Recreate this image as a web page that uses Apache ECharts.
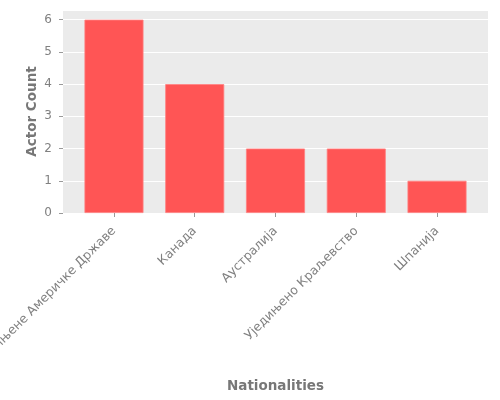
<!DOCTYPE html>
<html>
<head>
<meta charset="utf-8">
<script src="https://cdn.jsdelivr.net/npm/echarts@6/dist/echarts.min.js"></script>
<style>
html, body { margin: 0; padding: 0; background: #fff; }
#main { width: 500px; height: 400px; }
</style>
</head>
<body>
<div id="main"></div>
<script>
var categories = ['Сједињене Америчке Државе', 'Канада', 'Аустралија', 'Уједињено Краљевство', 'Шпанија'];
var counts = [6, 4, 2, 2, 1];

var chart = echarts.init(document.getElementById('main'));

// grid 0: grey panel + y axis, grid 1: the bars (narrower, like matplotlib margins)
chart.setOption({
	animation: false,
	textStyle: { fontFamily: 'DejaVu Sans' },
	grid: [{
		left: 63,
		right: 12,
		top: 10,
		bottom: 187,
		outerBoundsMode: 'none',
		containLabel: false,
		show: true,
		backgroundColor: '#EBEBEB',
		borderWidth: 0
	}, {
		left: 73.6,
		right: 22.6,
		top: 10,
		bottom: 187,
		outerBoundsMode: 'none',
		containLabel: false
	}],
	xAxis: [{
		gridIndex: 0,
		type: 'value',
		show: false
	}, {
		gridIndex: 1,
		type: 'category',
		data: categories,
		name: 'Nationalities',
		nameLocation: 'middle',
		nameGap: 166,
		nameMoveOverlap: false,
		nameTextStyle: { color: '#777777', fontSize: 13.5, fontWeight: 'bold' },
		axisLine: { show: false },
		splitLine: { show: false },
		axisTick: {
			show: true,
			alignWithLabel: true,
			length: 4,
			lineStyle: { color: '#999999' }
		},
		axisLabel: {
			rotate: 45,
			margin: 16,
			interval: 0,
			color: '#808080',
			fontSize: 12.5
		}
	}],
	yAxis: [{
		gridIndex: 0,
		type: 'value',
		min: 0,
		max: 6.3,
		interval: 1,
		name: 'Actor Count',
		nameLocation: 'middle',
		nameGap: 24,
		nameMoveOverlap: false,
		nameTextStyle: { color: '#777777', fontSize: 13.5, fontWeight: 'bold' },
		axisLine: { show: false },
		axisTick: { show: true, length: 4, lineStyle: { color: '#999999' } },
		axisLabel: {
			color: '#808080',
			fontSize: 12,
			margin: 11,
			showMaxLabel: false
		},
		splitLine: { show: true, lineStyle: { color: '#FFFFFF', width: 1 } }
	}, {
		gridIndex: 1,
		type: 'value',
		min: 0,
		max: 6.3,
		show: false
	}],
	series: [{
		type: 'bar',
		xAxisIndex: 1,
		yAxisIndex: 1,
		data: counts,
		barWidth: 59,
		itemStyle: {
			color: '#FF5555',
			borderColor: '#FF8080',
			borderWidth: 0.8
		}
	}]
});
</script>
</body>
</html>
